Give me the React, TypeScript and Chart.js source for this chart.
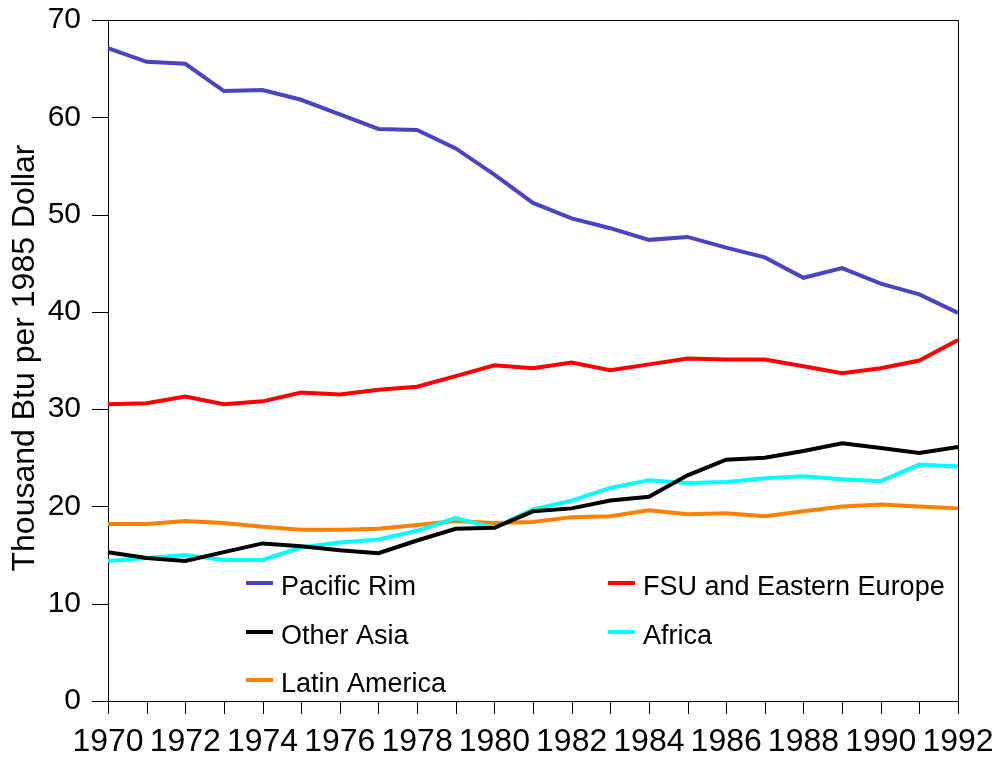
import React, { useEffect, useRef } from 'react';
import { Chart, registerables } from 'chart.js';

Chart.register(...registerables);

const years = ['1970', '1971', '1972', '1973', '1974', '1975', '1976', '1977', '1978', '1979', '1980', '1981', '1982', '1983', '1984', '1985', '1986', '1987', '1988', '1989', '1990', '1991', '1992'];

const pacificRim = [67.1, 65.7, 65.5, 62.7, 62.8, 61.8, 60.3, 58.8, 58.7, 56.8, 54.1, 51.2, 49.6, 48.6, 47.4, 47.7, 46.6, 45.6, 43.5, 44.5, 42.9, 41.8, 39.9];
const fsuEasternEurope = [30.5, 30.6, 31.3, 30.5, 30.8, 31.7, 31.5, 32.0, 32.3, 33.4, 34.5, 34.2, 34.8, 34.0, 34.6, 35.2, 35.1, 35.1, 34.4, 33.7, 34.2, 35.0, 37.1];
const otherAsia = [15.3, 14.7, 14.4, 15.3, 16.2, 15.9, 15.5, 15.2, 16.5, 17.7, 17.8, 19.5, 19.8, 20.6, 21.0, 23.2, 24.8, 25.0, 25.7, 26.5, 26.0, 25.5, 26.1];
const africa = [14.4, 14.7, 15.0, 14.5, 14.5, 15.8, 16.3, 16.6, 17.5, 18.8, 17.8, 19.7, 20.6, 21.9, 22.7, 22.4, 22.5, 22.9, 23.1, 22.8, 22.6, 24.3, 24.1];
const latinAmerica = [18.2, 18.2, 18.5, 18.3, 17.9, 17.6, 17.6, 17.7, 18.1, 18.5, 18.3, 18.4, 18.9, 19.0, 19.6, 19.2, 19.3, 19.0, 19.5, 20.0, 20.2, 20.0, 19.8];

const seriesLabels = ['Pacific Rim', 'FSU and Eastern Europe', 'Other Asia', 'Africa', 'Latin America'];
const seriesColors = ['#4a44c4', '#ff0000', '#000000', '#00ffff', '#ff8000'];
const seriesData = [pacificRim, fsuEasternEurope, otherAsia, africa, latinAmerica];

const yTitle = 'Thousand Btu per 1985 Dollar';
const FONT = '"Liberation Sans", Arial, Helvetica, sans-serif';

const customPlugin = {
  id: 'customDecor',
  afterDraw(chart: any) {
    const { ctx, chartArea } = chart;
    const xs = chart.scales.x;
    const ys = chart.scales.y;
    ctx.save();
    ctx.strokeStyle = '#000';
    ctx.lineWidth = 1;
    // top and right frame
    ctx.beginPath();
    ctx.moveTo(chartArea.left, Math.round(chartArea.top) + 0.5);
    ctx.lineTo(Math.round(chartArea.right) + 0.5, Math.round(chartArea.top) + 0.5);
    ctx.lineTo(Math.round(chartArea.right) + 0.5, chartArea.bottom);
    ctx.stroke();

    // outward tick marks
    ctx.beginPath();
    xs.ticks.forEach((_t: any, i: number) => {
      const px = Math.round(xs.getPixelForTick(i)) + 0.5;
      ctx.moveTo(px, chartArea.bottom);
      ctx.lineTo(px, chartArea.bottom + 13);
    });
    ys.ticks.forEach((_t: any, i: number) => {
      const py = Math.round(ys.getPixelForTick(i)) + 0.5;
      ctx.moveTo(chartArea.left - 16, py);
      ctx.lineTo(chartArea.left, py);
    });
    ctx.stroke();

    // y-axis title
    ctx.save();
    ctx.translate(25, 358);
    ctx.rotate(-Math.PI / 2);
    ctx.fillStyle = '#000';
    ctx.font = `32px ${FONT}`;
    ctx.textAlign = 'center';
    ctx.textBaseline = 'middle';
    ctx.fillText(yTitle, 0, 0);
    ctx.restore();

    // legend
    const cols = [246, 608];
    const rowsSwatch = [583, 632, 680];
    const rowsText = [595, 644, 692];
    ctx.font = `27px ${FONT}`;
    ctx.textAlign = 'left';
    ctx.textBaseline = 'alphabetic';
    seriesLabels.forEach((label, i) => {
      const col = i % 2;
      const row = Math.floor(i / 2);
      const x = cols[col];
      ctx.fillStyle = seriesColors[i];
      ctx.fillRect(x, rowsSwatch[row] - 2, 27, 4);
      ctx.fillStyle = '#000';
      ctx.fillText(label, x + 35, rowsText[row]);
    });
    ctx.restore();
  },
};

export default function App() {
  const canvasRef = useRef<HTMLCanvasElement | null>(null);

  useEffect(() => {
    if (!canvasRef.current) return;
    const chart = new Chart(canvasRef.current, {
      type: 'line',
      data: {
        labels: years,
        datasets: seriesLabels.map((label, i) => ({
          label,
          data: seriesData[i],
          borderColor: seriesColors[i],
          backgroundColor: seriesColors[i],
          borderWidth: 4,
          pointRadius: 0,
          tension: 0,
          fill: false,
        })),
      },
      options: {
        responsive: false,
        animation: false,
        layout: { padding: { top: 20, right: 40, left: 0, bottom: 0 } },
        plugins: {
          legend: { display: false },
          tooltip: { enabled: false },
          title: { display: false },
        },
        scales: {
          x: {
            type: 'category',
            offset: false,
            grid: { display: false, drawOnChartArea: false, drawTicks: false },
            border: { display: true, color: '#000', width: 1 },
            ticks: {
              autoSkip: false,
              maxRotation: 0,
              minRotation: 0,
              color: '#000',
              padding: 22,
              font: { size: 32, family: FONT },
              callback: (_v: any, i: number) => (i % 2 === 0 ? years[i] : ''),
            },
            afterFit: (s: any) => {
              s.height = 56;
              s.paddingLeft = 0;
              s.paddingRight = 0;
            },
          },
          y: {
            min: 0,
            max: 70,
            grid: { display: false, drawOnChartArea: false, drawTicks: false },
            border: { display: true, color: '#000', width: 1 },
            ticks: {
              stepSize: 10,
              color: '#000',
              padding: 27,
              font: { size: 30, family: FONT },
            },
            afterFit: (s: any) => {
              s.width = 108;
              s.paddingTop = 0;
              s.paddingBottom = 0;
            },
          },
        },
      },
      plugins: [customPlugin],
    });
    return () => chart.destroy();
  }, []);

  return (
    <div style={{ position: 'fixed', left: 0, top: 0, width: 998, height: 757, background: '#fff' }}>
      <canvas ref={canvasRef} width={998} height={757} style={{ display: 'block' }} />
    </div>
  );
}
